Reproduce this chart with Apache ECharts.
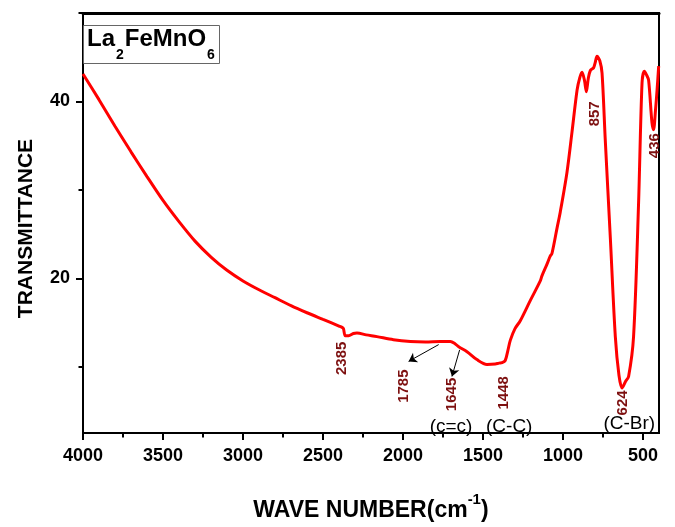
<!DOCTYPE html>
<html>
<head>
<meta charset="utf-8">
<script src="https://cdn.jsdelivr.net/npm/echarts@6/dist/echarts.min.js"></script>
<style>
  html, body { margin: 0; padding: 0; background: #fff; }
  #chart { width: 675px; height: 527px; }
</style>
</head>
<body>
<div id="chart"></div>
<script>
// FTIR spectrum (wave number in cm-1, transmittance)
var waveNumber = [4000, 3900, 3800, 3700, 3600, 3500, 3400, 3300, 3200, 3100, 3000, 2900, 2800, 2700, 2600, 2500, 2400, 2381, 2372, 2361, 2340, 2310, 2288, 2230, 2163, 2060, 1954, 1860, 1767, 1704, 1675, 1652, 1600, 1538, 1475, 1423, 1400, 1381, 1361, 1345, 1329, 1300, 1267, 1204, 1142, 1131, 1100, 1080, 1069, 1037, 1017, 975, 944, 912, 895, 881, 866, 854, 842, 829, 809, 800, 787, 770, 756, 736, 704, 673, 650, 631, 610, 590, 559, 528, 506, 492, 478, 465, 444, 434, 422, 412, 402];
var transmittance = [43.1, 40.2, 37.2, 34.3, 31.5, 28.8, 26.4, 24.2, 22.4, 20.9, 19.7, 18.7, 17.8, 16.9, 16.1, 15.35, 14.6, 14.45, 14.3, 13.5, 13.5, 13.75, 13.8, 13.6, 13.4, 13.05, 12.85, 12.8, 12.85, 12.85, 12.6, 12.25, 11.7, 10.8, 10.25, 10.3, 10.4, 10.45, 10.7, 11.8, 13.0, 14.3, 15.2, 17.5, 19.7, 20.3, 21.6, 22.5, 22.8, 25.7, 27.5, 32.0, 36.5, 41.3, 42.7, 43.3, 42.4, 41.1, 42.6, 43.5, 43.8, 44.3, 45.1, 44.6, 43.2, 35.7, 24.5, 13.4, 9.0, 7.6, 8.3, 8.9, 13.4, 28.3, 42.1, 43.4, 43.0, 42.4, 37.6, 36.8, 39.0, 41.3, 44.0];

// peak labels (text, wave number, transmittance where the label sits)
var peakText = ['2385', '1785', '1645', '1448', '857', '436', '624'];
var peakWave = [2381, 1992, 1694, 1371, 798, 423, 625];
var peakLevel = [10.95, 7.8, 6.86, 7.04, 38.6, 35.0, 5.9];

// bond assignments
var bondText = ['(c=c)', '(C-C)', '(C-Br)'];
var bondWave = [1700, 1336, 586];
var bondLevel = [3.24, 3.24, 3.5];

// arrows: from curve point to label
var arrowFrom = [[1777, 12.5], [1646, 11.9]];
var arrowTo = [[1965, 10.6], [1694, 8.9]];

// ticks
var xMajor = [4000, 3500, 3000, 2500, 2000, 1500, 1000, 500];
var xMinor = [3750, 3250, 2750, 2250, 1750, 1250, 750];
var yMajor = [20, 40];
var yMinor = [10, 30, 50];

var font = 'Liberation Sans, Arial, sans-serif';
var spectrum = waveNumber.map(function (w, i) { return [w, transmittance[i]]; });
var peaks = peakText.map(function (t, i) { return [peakWave[i], peakLevel[i], t]; });
var bonds = bondText.map(function (t, i) { return [bondWave[i], bondLevel[i], t]; });
var arrows = arrowFrom.map(function (p, i) { return [{ coord: p }, { coord: arrowTo[i] }]; });

var xBase = { type: 'value', min: 400, max: 4000, inverse: true, splitLine: { show: false } };
var yBase = { type: 'value', min: 2.5, max: 50, splitLine: { show: false } };

var option = {
    animation: false,
    backgroundColor: '#fff',
    title: {
        text: '{b|La}{s|2}{b|FeMnO}{s|6}',
        left: 83,
        top: 25,
        padding: [2, 4, 2, 4],
        borderColor: '#666',
        borderWidth: 1,
        textStyle: {
            rich: {
                b: { fontFamily: font, fontWeight: 'bold', fontSize: 24, lineHeight: 28, verticalAlign: 'top', color: '#000' },
                s: { fontFamily: font, fontWeight: 'bold', fontSize: 14, lineHeight: 14, padding: [21, 1, 0, 1], verticalAlign: 'top', color: '#000' }
            }
        }
    },
    grid: { left: 83, right: 16, top: 13, bottom: 89, show: true, borderColor: '#000', borderWidth: 2 },
    xAxis: [
        Object.assign({}, xBase, {
            position: 'bottom',
            axisLine: { lineStyle: { color: '#000', width: 2 } },
            axisTick: { customValues: xMajor, length: 7, lineStyle: { color: '#000', width: 2 } },
            axisLabel: {
                customValues: xMajor, margin: 14, color: '#000',
                fontFamily: font, fontWeight: 'bold', fontSize: 18,
                formatter: function (v) { return String(v); }
            },
            name: '{n|WAVE NUMBER(cm}{u|-1}{n|)}',
            nameLocation: 'middle',
            nameGap: 59,
            nameTextStyle: {
                rich: {
                    n: { fontFamily: font, fontWeight: 'bold', fontSize: 23, lineHeight: 30, verticalAlign: 'bottom', color: '#000' },
                    u: { fontFamily: font, fontWeight: 'bold', fontSize: 15, lineHeight: 15, verticalAlign: 'top', color: '#000' }
                }
            }
        }),
        Object.assign({}, xBase, {
            position: 'bottom',
            axisLine: { show: false },
            axisTick: { customValues: xMinor, length: 4.5, lineStyle: { color: '#000', width: 2 } },
            axisLabel: { show: false }
        }),
        Object.assign({}, xBase, {
            position: 'top',
            axisLine: { lineStyle: { color: '#000', width: 3 } },
            axisTick: { show: false },
            axisLabel: { show: false }
        })
    ],
    yAxis: [
        Object.assign({}, yBase, {
            position: 'left',
            axisLine: { lineStyle: { color: '#000', width: 2 } },
            axisTick: { customValues: yMajor, length: 7, lineStyle: { color: '#000', width: 2 } },
            axisLabel: { customValues: yMajor, margin: 13, color: '#000', fontFamily: font, fontWeight: 'bold', fontSize: 18 },
            name: 'TRANSMITTANCE',
            nameLocation: 'middle',
            nameGap: 46,
            nameRotate: 90,
            nameTextStyle: { fontFamily: font, fontWeight: 'bold', fontSize: 21, color: '#000', padding: [0, 11, 0, 0] }
        }),
        Object.assign({}, yBase, {
            position: 'left',
            axisLine: { show: false },
            axisTick: { customValues: yMinor, length: 4.5, lineStyle: { color: '#000', width: 2 } },
            axisLabel: { show: false }
        })
    ],
    series: [
        {
            type: 'line',
            data: spectrum,
            showSymbol: false,
            smooth: 0.3,
            lineStyle: { color: '#ff0000', width: 3 },
            z: 3
        },
        {
            type: 'scatter',
            data: peaks,
            symbolSize: 0,
            itemStyle: { opacity: 1 },
            label: {
                show: true,
                position: 'inside',
                rotate: 90,
                formatter: function (p) { return p.value[2]; },
                color: '#7d1010',
                fontFamily: font,
                fontWeight: 'bold',
                fontSize: 15
            },
            markLine: {
                silent: true,
                symbol: ['none', 'arrow'],
                symbolSize: 8,
                label: { show: false },
                lineStyle: { color: '#000', width: 1, type: 'solid', opacity: 1 },
                data: arrows
            },
            z: 4
        },
        {
            type: 'scatter',
            data: bonds,
            symbolSize: 0,
            itemStyle: { opacity: 1 },
            label: {
                show: true,
                position: 'inside',
                formatter: function (p) { return p.value[2]; },
                color: '#000',
                fontFamily: font,
                fontSize: 19
            },
            z: 4
        }
    ]
};

var myChart = echarts.init(document.getElementById('chart'));
myChart.setOption(option);
</script>
</body>
</html>
